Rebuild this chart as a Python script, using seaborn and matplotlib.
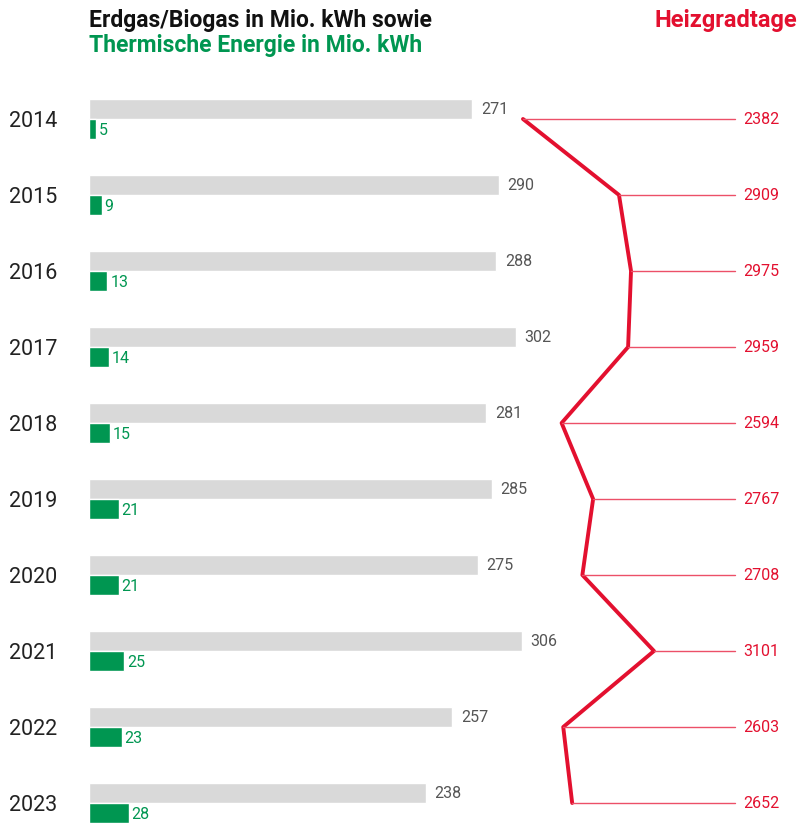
import pandas as pd
import matplotlib
matplotlib.use("Agg")
import matplotlib.pyplot as plt
from matplotlib.transforms import blended_transform_factory
import seaborn as sns

years = ["2014", "2015", "2016", "2017", "2018", "2019", "2020", "2021", "2022", "2023"]
erdgas = [271, 290, 288, 302, 281, 285, 275, 306, 257, 238]
thermisch = [5, 9, 13, 14, 15, 21, 21, 25, 23, 28]
heizgradtage = [2382, 2909, 2975, 2959, 2594, 2767, 2708, 3101, 2603, 2652]

GRAY = "#d9d9d9"
GREEN = "#009651"
RED = "#e3102f"
RED_LIGHT = "#ec5068"

sns.set_style("white")
plt.rcParams["font.family"] = ["Roboto", "DejaVu Sans"]

df = pd.DataFrame({
    "Jahr": years * 2,
    "Wert": erdgas + thermisch,
    "Serie": ["Erdgas"] * len(years) + ["Thermisch"] * len(years),
})

fig = plt.figure(figsize=(7.99, 8.23), dpi=100)
ax = fig.add_axes([89 / 799, 0, 710 / 799, 742 / 823])

sns.barplot(data=df, y="Jahr", x="Wert", hue="Serie", orient="h",
            palette={"Erdgas": GRAY, "Thermisch": GREEN}, width=0.514,
            legend=False, ax=ax, saturation=1)
ax.set_xlim(0, 502)

# value labels next to the bars
for i, v in enumerate(erdgas):
    ax.text(v + 6, i - 0.12, str(v), color="#555555", fontsize=11.5,
            ha="left", va="center")
for i, v in enumerate(thermisch):
    ax.text(v + 2, i + 0.15, str(v), color=GREEN, fontsize=11.5,
            ha="left", va="center")

ax.set_xlabel("")
ax.set_ylabel("")
ax.set_xticks([])
ax.tick_params(axis="y", length=0, pad=23, labelsize=15.5, labelcolor="#222222")
sns.despine(ax=ax, left=True, bottom=True)

# Heizgradtage on a second x scale
ax2 = ax.twiny()
ax2.set_xlim(0, 3897)
pos = list(range(len(years)))
sns.lineplot(x=heizgradtage, y=pos, sort=False, estimator=None, orient="y",
             color=RED, linewidth=2.8, ax=ax2)
x_end = 0.91 * 3897
lbl_tr = blended_transform_factory(ax2.transAxes, ax2.transData)
for i, v in enumerate(heizgradtage):
    ax2.plot([v, x_end], [i, i], color=RED_LIGHT, linewidth=1)
    ax2.text(0.922, i, str(v), transform=lbl_tr,
             color=RED, fontsize=11.5, ha="left", va="center")
ax2.set_xticks([])
sns.despine(ax=ax2, left=True, bottom=True, top=True)

ax.set_ylim(9 + 20 / 76, -0.5)

fig.text(89 / 799, 1 - 27 / 823, "Erdgas/Biogas in Mio. kWh sowie",
         fontsize=16.5, fontweight="bold", color="#111111", va="baseline")
fig.text(89 / 799, 1 - 52 / 823, "Thermische Energie in Mio. kWh",
         fontsize=16.5, fontweight="bold", color=GREEN, va="baseline")
fig.text(797 / 799, 1 - 27 / 823, "Heizgradtage",
         fontsize=17, fontweight="bold", color=RED, va="baseline", ha="right")

fig.savefig("out.png", dpi=100)
